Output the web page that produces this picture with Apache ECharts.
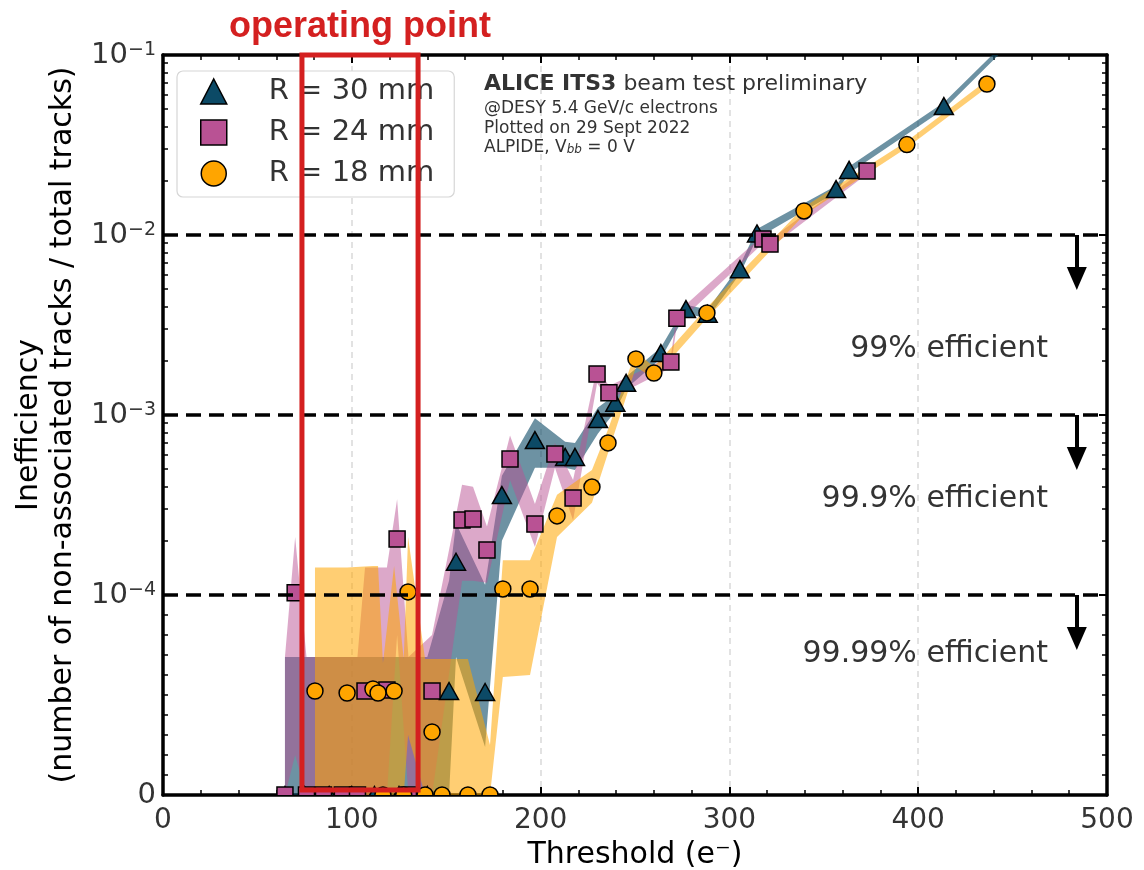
<!DOCTYPE html>
<html>
<head>
<meta charset="utf-8">
<title>ALICE ITS3 beam test – inefficiency vs threshold</title>
<script src="https://cdn.jsdelivr.net/npm/echarts@6/dist/echarts.min.js"></script>
<style>
  html, body { margin: 0; padding: 0; background: #fff; }
  #chart { width: 1144px; height: 870px; }
</style>
</head>
<body>
<div id="chart"></div>
<script>
// ---------- symmetric-log y scale: linear 0..1e-4, log above ----------
const LINTHRESH = 1e-4;
const LINSPAN = 10 / 9;               // height of the linear part, in decades
function T(v) {
  return v <= LINTHRESH ? (v / LINTHRESH) * LINSPAN : LINSPAN + Math.log10(v / LINTHRESH);
}

// ---------- data: threshold (e-), inefficiency and its band ----------
const thrR30   = [64.6, 75, 88, 100, 112, 125, 140, 151.5, 155.2, 170.6, 179.5, 197.0, 213.0, 218.2, 230.4, 239.6, 245.3, 263.7, 277.0, 288.5, 305.6, 314.6, 356.5, 363.4, 413.6, 446.5];
const ineffR30 = [0, 0, 0, 0, 0, 0, 0, 5.2e-5, 1.53e-4, 5.15e-5, 3.59e-4, 7.26e-4, 5.85e-4, 5.85e-4, 9.5e-4, 1.17e-3, 1.51e-3, 2.21e-3, 3.88e-3, 3.65e-3, 6.46e-3, 1.02e-2, 1.8e-2, 2.3e-2, 5.2e-2, 0.114];
const lowR30   = [0, 0, 0, 0, 0, 0, 0, 0, 6.9e-5, 2.4e-5, 2.0e-4, 5.1e-4, 5.1e-4, 4.95e-4, 7.9e-4, 1.05e-3, 1.4e-3, 2.06e-3, 3.65e-3, 3.45e-3, 6.1e-3, 9.6e-3, 1.72e-2, 2.2e-2, 5.0e-2, 0.110];
const highR30  = [6.9e-5, 6.9e-5, 6.9e-5, 6.9e-5, 6.9e-5, 6.9e-5, 6.9e-5, 1.2e-4, 2.5e-4, 1.14e-4, 4.6e-4, 9.6e-4, 7.1e-4, 7.0e-4, 1.1e-3, 1.3e-3, 1.63e-3, 2.37e-3, 4.1e-3, 3.85e-3, 6.8e-3, 1.08e-2, 1.88e-2, 2.4e-2, 5.45e-2, 0.119];

const thrR24   = [64.6, 70.0, 76, 85, 95, 103, 107.0, 118.6, 124.0, 130, 142.5, 158.4, 164.2, 171.6, 183.8, 197.0, 207.6, 217.2, 229.9, 236.2, 269.0, 272.2, 317.8, 321.5, 372.9];
const ineffR24 = [0, 1.03e-4, 0, 0, 0, 0, 5.2e-5, 5.25e-5, 2.05e-4, 0, 5.2e-5, 2.61e-4, 2.64e-4, 1.78e-4, 5.69e-4, 2.48e-4, 6.07e-4, 3.46e-4, 1.69e-3, 1.33e-3, 1.97e-3, 3.45e-3, 9.5e-3, 8.9e-3, 2.27e-2];
const lowR24   = [0, 2e-5, 0, 0, 0, 0, 0, 0, 8e-5, 0, 0, 1.2e-4, 1.2e-4, 1.17e-4, 4.35e-4, 1.85e-4, 5.1e-4, 2.6e-4, 1.5e-3, 1.22e-3, 1.83e-3, 3.2e-3, 9.0e-3, 8.5e-3, 2.18e-2];
const highR24  = [6.9e-5, 2.1e-4, 6.9e-5, 6.9e-5, 6.9e-5, 6.9e-5, 1.42e-4, 1.42e-4, 3.4e-4, 6.9e-5, 8e-5, 4.1e-4, 4.0e-4, 2.4e-4, 7.7e-4, 3.2e-4, 7.0e-4, 4.35e-4, 1.85e-3, 1.45e-3, 2.12e-3, 3.7e-3, 1.0e-2, 9.4e-3, 2.37e-2];

const thrR18   = [80.5, 97.5, 111.2, 113.9, 116.5, 122.4, 127.5, 129.8, 138.8, 142.5, 147.8, 161.5, 173.2, 180.0, 194.4, 208.7, 227.2, 235.7, 250.5, 260.0, 288.1, 339.5, 394.0, 436.4];
const ineffR18 = [5.2e-5, 5.1e-5, 5.3e-5, 5.1e-5, 0, 5.2e-5, 0, 1.04e-4, 0, 3.15e-5, 0, 0, 0, 1.08e-4, 1.08e-4, 2.75e-4, 3.98e-4, 7.0e-4, 2.05e-3, 1.71e-3, 3.69e-3, 1.36e-2, 3.18e-2, 6.9e-2];
const lowR18   = [0, 0, 0, 0, 0, 0, 0, 3e-5, 0, 0, 0, 0, 0, 5.9e-5, 6e-5, 2.1e-4, 3.25e-4, 6.15e-4, 1.85e-3, 1.6e-3, 3.45e-3, 1.29e-2, 3.05e-2, 6.6e-2];
const highR18  = [1.42e-4, 1.42e-4, 1.45e-4, 1.45e-4, 6.6e-5, 1.45e-4, 6.8e-5, 2.1e-4, 6.8e-5, 6.8e-5, 6.8e-5, 6.8e-5, 2.5e-5, 1.56e-4, 1.56e-4, 3.6e-4, 4.95e-4, 8.3e-4, 2.25e-3, 1.85e-3, 3.95e-3, 1.43e-2, 3.32e-2, 7.25e-2];

const seriesNames = ['R = 30 mm', 'R = 24 mm', 'R = 18 mm'];

// ---------- axes and annotations ----------
const yTickValues = [0, 1e-4, 1e-3, 1e-2, 1e-1];
const yTickExp    = [null, -4, -3, -2, -1];
const limitValues = [1e-2, 1e-3, 1e-4];
const effLabels   = ['99% efficient', '99.9% efficient', '99.99% efficient'];
const effLabelY   = [2.33e-3, 3.42e-4, 7.06e-5];
const effLabelX   = 468.7;
const arrowX      = 484;
const opRange     = [73.6, 135.1];      // operating-point threshold window
const opBottom    = 2.5e-6;             // lower edge of the window, just above zero

const FONT = "'DejaVu Sans', sans-serif";
const C30 = '#0c4a66', C24 = '#b95294', C18 = '#ffa500';
const RED = '#d42020';

function rgba(hex, a) {
  const n = parseInt(hex.slice(1), 16);
  return 'rgba(' + (n >> 16) + ',' + ((n >> 8) & 255) + ',' + (n & 255) + ',' + a + ')';
}

const YMAX = T(1e-1);
const yMajor = yTickValues.map(T);
const yMinor = [];
for (let k = 1; k <= 9; k++) yMinor.push(T(k * 1e-5));
for (let d = -4; d <= -2; d++) for (let m = 2; m <= 9; m++) yMinor.push(T(m * Math.pow(10, d)));

function yLabel(val) {
  const i = yMajor.findIndex(t => Math.abs(t - val) < 1e-6);
  if (i < 0) return '';
  if (yTickExp[i] === null) return '{b|0}';
  return '{b|10}{s|\u2212' + Math.abs(yTickExp[i]) + '}';
}

function toPts(thr, vals) { return thr.map((x, i) => [x, T(vals[i])]); }

// shaded uncertainty band between the low and high curves
function bandSeries(name, thr, low, high, color) {
  const upper = toPts(thr, high);
  const lower = toPts(thr, low);
  return {
    type: 'custom', name: name + ' band', z: 1, clip: true, silent: true,
    data: upper, encode: { x: 0, y: 1 },
    renderItem(params, api) {
      if (params.dataIndex !== 0) return null;
      const pts = upper.map(p => api.coord(p)).concat(lower.slice().reverse().map(p => api.coord(p)));
      return { type: 'polygon', shape: { points: pts }, style: { fill: color } };
    }
  };
}

// measured points, clipped to the plot frame
function markerSeries(name, kind, thr, vals, color) {
  return {
    type: 'custom', name: name, z: 4, clip: true, silent: true,
    data: toPts(thr, vals), encode: { x: 0, y: 1 },
    renderItem(params, api) {
      const c = api.coord([api.value(0), api.value(1)]);
      const style = { fill: color, stroke: '#000', lineWidth: 1.5 };
      if (kind === 'triangle') {
        const w = 19, h = 17;
        return { type: 'polygon', shape: { points: [[c[0], c[1] - h / 2], [c[0] + w / 2, c[1] + h / 2], [c[0] - w / 2, c[1] + h / 2]] }, style };
      }
      if (kind === 'square') {
        return { type: 'rect', shape: { x: c[0] - 8, y: c[1] - 8, width: 16, height: 16 }, style };
      }
      return { type: 'circle', shape: { cx: c[0], cy: c[1], r: 8 }, style };
    }
  };
}

const frameLine = { onZero: false, lineStyle: { color: '#000', width: 3.5 } };
const majorTick = { inside: true, length: 8, lineStyle: { color: '#000', width: 2 } };
const minorTickStyle = { color: '#000', width: 1.5 };

const option = {
  animation: false,
  backgroundColor: '#fff',
  grid: { left: 163, right: 37, top: 55, bottom: 75, outerBoundsMode: 'none', containLabel: false },
  xAxis: [
    {
      type: 'value', min: 0, max: 500, interval: 100, position: 'bottom',
      axisLine: frameLine, axisTick: majorTick,
      minorTick: { show: true, splitNumber: 5, length: 5, lineStyle: minorTickStyle },
      axisLabel: { fontSize: 28, color: '#333', margin: 12, fontFamily: FONT },
      splitLine: { show: true, lineStyle: { color: '#d9d9d9', width: 1.5, type: [6, 5] } },
      name: 'Threshold (e\u207B)', nameLocation: 'middle', nameGap: 43,
      nameTextStyle: { fontSize: 30, color: '#000', fontFamily: FONT }
    },
    {
      type: 'value', min: 0, max: 500, interval: 100, position: 'top',
      axisLine: frameLine, axisTick: majorTick,
      minorTick: { show: true, splitNumber: 5, length: 5, lineStyle: minorTickStyle },
      axisLabel: { show: false }, splitLine: { show: false }
    }
  ],
  yAxis: [
    {
      type: 'value', min: 0, max: YMAX, position: 'left',
      axisLine: frameLine,
      axisTick: Object.assign({ customValues: yMajor }, majorTick),
      axisLabel: {
        customValues: yMajor, formatter: yLabel, margin: 7,
        rich: {
          b: { fontSize: 29, color: '#333', fontFamily: FONT },
          s: { fontSize: 19, color: '#333', fontFamily: FONT, verticalAlign: 'top' }
        }
      },
      splitLine: { show: false },
      name: 'Inefficiency\n(number of non-associated tracks / total tracks)',
      nameLocation: 'middle', nameRotate: 90, nameGap: 82,
      nameTextStyle: { fontSize: 30, lineHeight: 34, color: '#000', fontFamily: FONT }
    },
    {
      type: 'value', min: 0, max: YMAX, position: 'right',
      axisLine: frameLine,
      axisTick: Object.assign({ customValues: yMajor }, majorTick),
      axisLabel: { show: false }, splitLine: { show: false }
    },
    {
      type: 'value', min: 0, max: YMAX, position: 'left',
      axisLine: { show: false, onZero: false },
      axisTick: { inside: true, length: 5, customValues: yMinor, lineStyle: minorTickStyle },
      axisLabel: { show: false }, splitLine: { show: false }
    },
    {
      type: 'value', min: 0, max: YMAX, position: 'right',
      axisLine: { show: false, onZero: false },
      axisTick: { inside: true, length: 5, customValues: yMinor, lineStyle: minorTickStyle },
      axisLabel: { show: false }, splitLine: { show: false }
    }
  ],
  legend: {
    orient: 'vertical', left: 177, top: 71, selectedMode: false, z: 3,
    itemWidth: 26, itemHeight: 25, itemGap: 12,
    padding: [6, 20, 9, 23],
    backgroundColor: '#fff', borderColor: '#d6d6d6', borderWidth: 1.2, borderRadius: 6,
    textStyle: { fontSize: 29, color: '#333', fontFamily: FONT, padding: [0, 0, 0, 37] },
    data: [
      { name: seriesNames[0], icon: 'triangle', itemStyle: { color: C30, borderColor: '#000', borderWidth: 1.5 } },
      { name: seriesNames[1], icon: 'rect', itemStyle: { color: C24, borderColor: '#000', borderWidth: 1.5 } },
      { name: seriesNames[2], icon: 'circle', itemStyle: { color: C18, borderColor: '#000', borderWidth: 1.5 } }
    ]
  },
  graphic: [
    {
      type: 'text', left: 484, top: 73, z: 10,
      style: {
        text: '{b|ALICE ITS3} beam test preliminary',
        fontSize: 22, fontFamily: FONT, fill: '#333',
        rich: { b: { fontSize: 22, fontWeight: 'bold', fontFamily: FONT, fill: '#333' } }
      }
    },
    { type: 'text', left: 484, top: 100, z: 10, style: { text: '@DESY 5.4 GeV/c electrons', fontSize: 17, fontFamily: FONT, fill: '#333' } },
    { type: 'text', left: 484, top: 120, z: 10, style: { text: 'Plotted on 29 Sept 2022', fontSize: 17, fontFamily: FONT, fill: '#333' } },
    {
      type: 'text', left: 484, top: 139, z: 10,
      style: {
        text: 'ALPIDE, V{sub|bb} = 0 V', fontSize: 17, fontFamily: FONT, fill: '#333',
        rich: { sub: { fontSize: 12, fontStyle: 'italic', fontFamily: FONT, fill: '#333', verticalAlign: 'bottom' } }
      }
    }
  ],
  series: [
    bandSeries(seriesNames[0], thrR30, lowR30, highR30, rgba(C30, 0.6)),
    bandSeries(seriesNames[1], thrR24, lowR24, highR24, rgba(C24, 0.5)),
    bandSeries(seriesNames[2], thrR18, lowR18, highR18, rgba(C18, 0.55)),
    {
      // efficiency limits and their arrows
      type: 'line', name: 'limits', data: [], z: 3, silent: true,
      markLine: {
        silent: true, symbol: ['none', 'none'], animation: false,
        label: { show: false },
        lineStyle: { color: '#000', width: 3.5, type: [15, 8] },
        data: limitValues.map(v => ({ yAxis: T(v) })).concat(
          limitValues.map(v => [
            { coord: [arrowX, T(v)], symbol: 'none', lineStyle: { type: 'solid', width: 4, color: '#000' } },
            { coord: [arrowX, T(v) - 0.242], symbol: 'triangle', symbolSize: [20, 23] }
          ])
        )
      },
      markPoint: {
        silent: true, symbol: 'circle', symbolSize: 0,
        label: { show: true, position: 'left', distance: 0, fontSize: 30, color: '#333', fontFamily: FONT, formatter: p => p.name },
        data: effLabels.map((s, i) => ({ name: s, coord: [effLabelX, T(effLabelY[i])] }))
      }
    },
    markerSeries(seriesNames[0], 'triangle', thrR30, ineffR30, C30),
    markerSeries(seriesNames[1], 'square', thrR24, ineffR24, C24),
    markerSeries(seriesNames[2], 'circle', thrR18, ineffR18, C18),
    {
      // operating-point window with its caption, drawn over the legend
      type: 'custom', name: 'operating point', z: 20, zlevel: 1, clip: false, silent: true,
      data: [[opRange[0], T(opBottom), opRange[1], YMAX]],
      encode: { x: [0, 2], y: [1, 3] },
      renderItem(params, api) {
        const a = api.coord([api.value(0), api.value(1)]);
        const b = api.coord([api.value(2), api.value(3)]);
        return {
          type: 'group',
          children: [
            {
              type: 'rect',
              shape: { x: a[0], y: b[1], width: b[0] - a[0], height: a[1] - b[1] },
              style: { fill: 'none', stroke: RED, lineWidth: 5 }
            },
            {
              type: 'text', x: (a[0] + b[0]) / 2, y: b[1] - 10,
              style: {
                text: 'operating point', fill: RED, fontSize: 36, fontWeight: 'bold',
                fontFamily: "'Liberation Sans', Arial, sans-serif",
                align: 'center', verticalAlign: 'bottom'
              }
            }
          ]
        };
      }
    }
  ]
};

const chart = echarts.init(document.getElementById('chart'), null, { renderer: 'canvas' });
chart.setOption(option);
</script>
</body>
</html>
